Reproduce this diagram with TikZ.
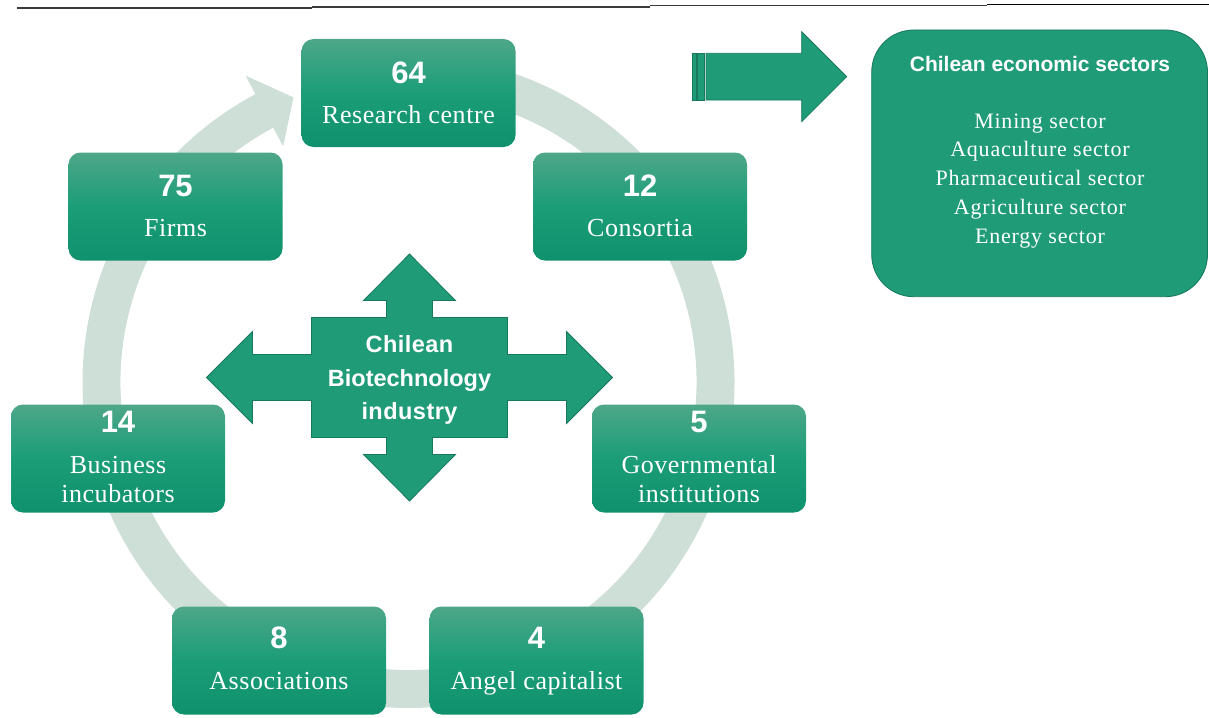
\documentclass[tikz,border=0pt]{standalone}
\usepackage{fontspec}
\setmainfont{Liberation Serif}
\newfontfamily\arialfam{Liberation Sans}
\newfontfamily\lblserif{Liberation Serif}[LetterSpace=2.2]
\newfontfamily\secserif{Liberation Serif}[LetterSpace=3.6]
\newfontfamily\hubsans{Liberation Sans}[LetterSpace=2]
\usetikzlibrary{calc}

\definecolor{ringc}{HTML}{CDDFD7}
\definecolor{boxtop}{HTML}{4DA788}
\definecolor{boxmid}{HTML}{1B9D78}
\definecolor{boxbot}{HTML}{0F916D}
\definecolor{flatg}{HTML}{1F9B77}
\definecolor{edgeg}{HTML}{17785C}
\definecolor{rulec}{HTML}{3A3A3A}

\newcommand\numfont{\arialfam\bfseries\fontsize{31}{31}\selectfont}
\newcommand\lblfont{\lblserif\fontsize{26}{29}\selectfont}
\newcommand\hubfont{\arialfam\bfseries\fontsize{23.5}{32}\selectfont}
\newcommand\hubwide{\hubsans\bfseries\fontsize{23.5}{32}\selectfont}
\newcommand\headfont{\arialfam\bfseries\fontsize{21}{21}\selectfont}
\newcommand\secfont{\secserif\fontsize{22}{28}\selectfont}

\tikzset{
  cbox/.style={rectangle, rounded corners=12pt, minimum width=214pt,
    minimum height=108pt, inner sep=0pt, draw=none,
    top color=boxtop, bottom color=boxbot, middle color=boxmid},
  num/.style={anchor=base, text=white, font=\numfont, inner sep=0pt},
  lbl/.style={anchor=base, text=white, font=\lblfont, inner sep=0pt},
  hubtext/.style={anchor=base, text=white, font=\hubfont, inner sep=0pt},
  sectext/.style={anchor=base, text=white, font=\secfont, inner sep=0pt},
  bigarrow/.style={fill=flatg, draw=edgeg, line width=0.8pt, line join=miter},
  rule/.style={draw=rulec, line width=1.6pt}
}

\begin{document}
\begin{tikzpicture}[x=1pt,y=-1pt]
\useasboundingbox (0,0) rectangle (1209,717);

% rule along the top edge
\draw[rule] (17,8.3) -- (312,8.3);
\draw[rule] (312,7) -- (650,7);
\draw[rule] (650,5.7) -- (987,5.7);
\draw[rule, draw=black] (987,4.4) -- (1209,4.4);

% circular cycle arrow behind the boxes
\begin{scope}[shift={(408.5,382)}, yscale=-1]
  \fill[ringc] (95:326) arc[start angle=95, end angle=-242, radius=326]
    -- (-242:347) -- (-248:307) -- (-242:267) -- (-242:288)
    arc[start angle=-242, end angle=95, radius=288] -- cycle;
\end{scope}

% four-way arrow in the middle
\begin{scope}[shift={(409.5,377.5)}]
  \draw[bigarrow] (0,-123.5) -- (46,-77) -- (23,-77) -- (23,-60) -- (98,-60)
    -- (98,-23) -- (157,-23) -- (157,-46) -- (203,0) -- (157,46) -- (157,23)
    -- (98,23) -- (98,60) -- (23,60) -- (23,77) -- (46,77) -- (0,123.5)
    -- (-46,77) -- (-23,77) -- (-23,60) -- (-98,60) -- (-98,23) -- (-157,23)
    -- (-157,46) -- (-203,0) -- (-157,-46) -- (-157,-23) -- (-98,-23)
    -- (-98,-60) -- (-23,-60) -- (-23,-77) -- (-46,-77) -- cycle;
\end{scope}
\node[hubtext, font=\hubwide] (hub1) at (409.5,352) {Chilean};
\node[hubtext] (hub2) at (409.5,386.5) {Biotechnology};
\node[hubtext, font=\hubwide] (hub3) at (409.5,419) {industry};

% actor boxes
\node[cbox] (rc) at (408.5,93) {};
\node[num] (rcn) at (408.5,83) {64};
\node[lbl] (rcl) at (408.5,123) {Research centre};

\node[cbox] (firms) at (175.5,206.5) {};
\node[num] (firmsn) at (175.5,196) {75};
\node[lbl] (firmsl) at (175.5,236) {Firms};

\node[cbox] (cons) at (640,206.5) {};
\node[num] (consn) at (640,196) {12};
\node[lbl] (consl) at (640,236) {Consortia};

\node[cbox] (biz) at (118,458.5) {};
\node[num] (bizn) at (118,432) {14};
\node[lbl] (bizl1) at (118,473) {Business};
\node[lbl] (bizl2) at (118,502) {incubators};

\node[cbox] (gov) at (699,458.5) {};
\node[num] (govn) at (699,432) {5};
\node[lbl] (govl1) at (699,473) {Governmental};
\node[lbl] (govl2) at (699,502) {institutions};

\node[cbox] (assoc) at (279,660.5) {};
\node[num] (assocn) at (279,648) {8};
\node[lbl] (assocl) at (279,689) {Associations};

\node[cbox] (angel) at (536.5,660.5) {};
\node[num] (angeln) at (536.5,648) {4};
\node[lbl] (angell) at (536.5,689) {Angel capitalist};

% striped block arrow towards the sectors
\draw[bigarrow] (706,53.3) -- (801.7,53.3) -- (801.7,31.7) -- (846.7,76.7)
  -- (801.7,121.7) -- (801.7,100) -- (706,100) -- cycle;
\draw[bigarrow] (697.7,53.3) rectangle (704,100);
\draw[bigarrow] (692.7,53.3) rectangle (696,100);

% sectors box
\draw[fill=flatg, draw=edgeg, line width=0.8pt, rounded corners=42pt]
  (871.7,30) rectangle (1207.5,296.7);
\node[anchor=base, text=white, font=\headfont, inner sep=0pt] (sechead)
  at (1040,71.7) {Chilean economic sectors};
\node[sectext] (sec1) at (1040,128) {Mining sector};
\node[sectext] (sec2) at (1040,156.8) {Aquaculture sector};
\node[sectext] (sec3) at (1040,185.5) {Pharmaceutical sector};
\node[sectext] (sec4) at (1040,214.3) {Agriculture sector};
\node[sectext] (sec5) at (1040,243) {Energy sector};
\end{tikzpicture}
\end{document}
